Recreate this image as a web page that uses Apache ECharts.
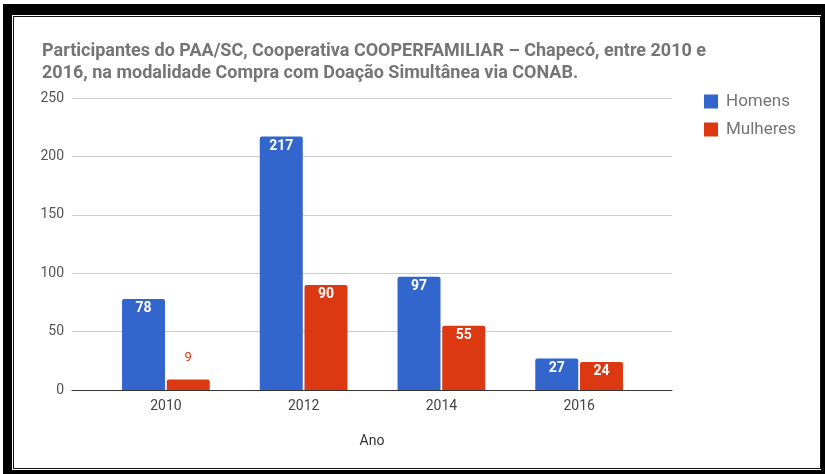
<!DOCTYPE html>
<html>
<head>
<meta charset="utf-8">
<script src="https://cdn.jsdelivr.net/npm/echarts@6/dist/echarts.min.js"></script>
<style>
html,body{margin:0;padding:0;background:#fff;}
#chart{position:absolute;left:0;top:0;width:825px;height:474px;}
.f{position:absolute;pointer-events:none;box-sizing:border-box;}
</style>
</head>
<body>
<div id="chart"></div>
<div class="f" style="left:3px;top:4px;width:822px;height:470px;border-style:solid;border-color:#000;border-width:11px 4px 4px 9px;"></div>
<div class="f" style="left:13px;top:16px;width:808px;height:453px;border:1.5px solid #111;"></div>
<script>
const titleText = 'Participantes do PAA/SC, Cooperativa COOPERFAMILIAR – Chapecó, entre 2010 e\n2016, na modalidade Compra com Doação Simultânea via CONAB.';
const categories = ['2010', '2012', '2014', '2016'];
const homens = [78, 217, 97, 27];
const mulheres = [9, 90, 55, 24];
const yTicks = [0, 50, 100, 150, 200, 250];
const xName = 'Ano';

const BLUE = '#3366cc', RED = '#dc3912';
const font = 'Roboto, "Noto Sans", sans-serif';

function mk(vals, color) {
  return vals.map(v => {
    if (v < 15) {
      return { value: v, label: { position: 'top', distance: 15, color: color, fontWeight: 'normal', fontSize: 13 } };
    }
    return v;
  });
}

const chart = echarts.init(document.getElementById('chart'), null, { renderer: 'canvas' });
chart.setOption({
  animation: false,
  textStyle: { fontFamily: font },
  title: {
    text: titleText, left: 37, top: 35,
    textStyle: { fontFamily: font, fontSize: 18, fontWeight: 'bold', color: '#757575', lineHeight: 22 }
  },
  legend: {
    orient: 'vertical', left: 699, top: 88, itemWidth: 14, itemHeight: 14, itemGap: 11,
    icon: 'rect',
    textStyle: { fontFamily: font, fontSize: 17, color: '#757575', padding: [0, 0, 0, 3] },
    data: ['Homens', 'Mulheres']
  },
  grid: [
    { left: 72, right: 153, top: 98, bottom: 84 },
    { left: 97, right: 177, top: 98, bottom: 84 }
  ],
  xAxis: [
    { gridIndex: 0, type: 'value', min: 0, max: 1, axisLabel: { show: false }, axisTick: { show: false }, splitLine: { show: false },
      axisLine: { show: true, lineStyle: { color: '#333', width: 1 } },
      name: xName, nameLocation: 'middle', nameGap: 44, nameTextStyle: { fontFamily: font, fontSize: 14, color: '#333' } },
    { gridIndex: 1, type: 'category', data: categories, axisLine: { show: false }, axisTick: { show: false },
      axisLabel: { margin: 9, fontFamily: font, fontSize: 14, color: '#444' } }
  ],
  yAxis: [
    { gridIndex: 0, type: 'value', min: yTicks[0], max: yTicks[yTicks.length - 1], interval: yTicks[1] - yTicks[0],
      axisLine: { show: false }, axisTick: { show: false },
      axisLabel: { margin: 8, fontFamily: font, fontSize: 14, color: '#555' },
      splitLine: { lineStyle: { color: '#cccccc' } } },
    { gridIndex: 1, type: 'value', min: yTicks[0], max: yTicks[yTicks.length - 1], show: false }
  ],
  series: [
    { name: 'Homens', type: 'bar', xAxisIndex: 1, yAxisIndex: 1, data: mk(homens, BLUE), barWidth: 43, barGap: '4%',
      itemStyle: { color: BLUE, borderRadius: [2, 2, 0, 0] },
      label: { show: true, position: 'insideTop', distance: 3, color: '#fff', fontWeight: 'bold', fontSize: 14, fontFamily: font } },
    { name: 'Mulheres', type: 'bar', xAxisIndex: 1, yAxisIndex: 1, data: mk(mulheres, RED), barWidth: 43,
      itemStyle: { color: RED, borderRadius: [2, 2, 0, 0] },
      label: { show: true, position: 'insideTop', distance: 3, color: '#fff', fontWeight: 'bold', fontSize: 14, fontFamily: font } }
  ]
});
</script>
</body>
</html>
